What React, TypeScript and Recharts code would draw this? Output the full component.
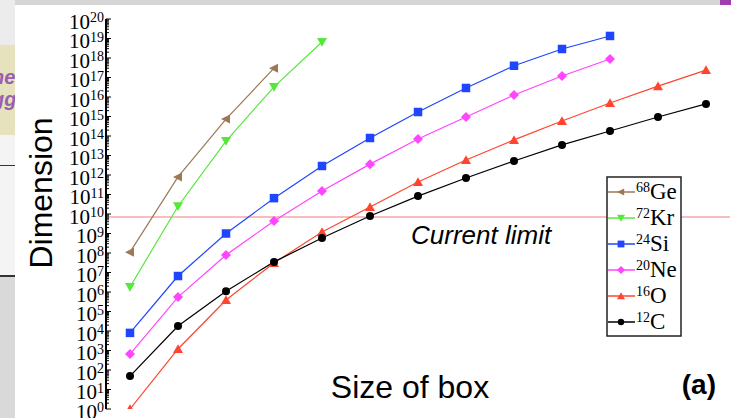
import { LineChart, Line, XAxis, YAxis, ReferenceLine } from "recharts"

// box sizes along the x axis (no tick labels in the figure)
const boxSizes = [1, 2, 3, 4, 5, 6, 7, 8, 9, 10, 11, 12, 13]

// dimensions
const ge68 = [1.1e8, 8e11, 7.4e14, 3e17]
const kr72 = [1.8e6, 2.5e10, 5.5e13, 3.3e16, 6.6e18]
const si24 = [8e3, 6.6e6, 1e9, 6.5e10, 2.9e12, 7.9e13, 1.7e15, 2.9e16, 4e17, 2.9e18, 1.35e19]
const ne20 = [660, 5.5e5, 7.9e7, 4.4e9, 1.5e11, 3.6e12, 7e13, 9.4e14, 1.26e16, 1.2e17, 8.9e17]
const o16 = [1, 1.2e3, 3.9e5, 3.1e7, 1.2e9, 2.3e10, 4.4e11, 5.9e12, 6.3e13, 5.9e14, 4.9e15, 3.6e16, 2.4e17]
const c12 = [49, 1.8e4, 1.1e6, 3.5e7, 5.9e8, 7.9e9, 8.3e10, 7e11, 5.2e12, 3.5e13, 1.8e14, 9.4e14, 4.4e15]

const currentLimit = 7e9

// tick values
const decades = Array.from({ length: 21 }, (_, k) => k)
const yTicks = decades.flatMap((k) =>
  k === 20 ? [1e20] : [1, 2, 3, 4, 5, 6, 7, 8, 9].map((m) => m * 10 ** k)
)
const xTicks = boxSizes.flatMap((b) => [b - 0.5, b]).concat([13.5])

const series = [
  { key: "ge", mass: "68", name: "Ge", color: "#9c7856", shape: "left", values: ge68 },
  { key: "kr", mass: "72", name: "Kr", color: "#55e83a", shape: "down", values: kr72 },
  { key: "si", mass: "24", name: "Si", color: "#1f45ff", shape: "square", values: si24 },
  { key: "ne", mass: "20", name: "Ne", color: "#ff45ff", shape: "diamond", values: ne20 },
  { key: "o", mass: "16", name: "O", color: "#ff4530", shape: "up", values: o16 },
  { key: "c", mass: "12", name: "C", color: "#000000", shape: "circle", values: c12 },
]

const rows = boxSizes.map((x, i) => {
  const r: any = { x }
  series.forEach((s) => {
    r[s.key] = s.values[i] ?? null
  })
  return r
})

const serif = "'Liberation Serif', 'Times New Roman', serif"
const sans = "'Liberation Sans', Arial, sans-serif"

function Marker({ shape, cx, cy, color, s }: any) {
  if (cx == null || cy == null) return null
  switch (shape) {
    case "left":
      return <polygon points={`${cx - s},${cy} ${cx + s * 0.8},${cy - s * 0.9} ${cx + s * 0.8},${cy + s * 0.9}`} fill={color} />
    case "down":
      return <polygon points={`${cx - s},${cy - s * 0.8} ${cx + s},${cy - s * 0.8} ${cx},${cy + s * 0.95}`} fill={color} />
    case "up":
      return <polygon points={`${cx - s},${cy + s * 0.8} ${cx + s},${cy + s * 0.8} ${cx},${cy - s * 0.95}`} fill={color} />
    case "square":
      return <rect x={cx - s * 0.85} y={cy - s * 0.85} width={s * 1.7} height={s * 1.7} fill={color} />
    case "diamond":
      return <polygon points={`${cx - s},${cy} ${cx},${cy - s} ${cx + s},${cy} ${cx},${cy + s}`} fill={color} />
    default:
      return <circle cx={cx} cy={cy} r={s * 0.8} fill={color} />
  }
}

const isDecade = (v: number) => Math.abs(Math.log10(v) - Math.round(Math.log10(v))) < 1e-6

const LeftTick = (props: any) => {
  const { x, y, payload } = props
  const v = payload.value
  const major = isDecade(v)
  return (
    <g>
      <line x1={x} x2={x + (major ? 5 : 3)} y1={y} y2={y} stroke="#000" strokeWidth={1} />
      {major && (
        <text x={x - 2} y={y + 9.5} textAnchor="end" fontFamily={serif} fontSize={21} fill="#000">
          10
          <tspan dy={-6.5} fontSize={14}>
            {Math.round(Math.log10(v))}
          </tspan>
        </text>
      )}
    </g>
  )
}

const RightTick = (props: any) => {
  const { x, y, payload } = props
  const major = isDecade(payload.value)
  return <line x1={x} x2={x - (major ? 6 : 3)} y1={y} y2={y} stroke="#000" strokeWidth={1} />
}

const BottomTick = (props: any) => {
  const { x, y } = props
  return <line x1={x} x2={x} y1={y} y2={y - 5} stroke="#000" strokeWidth={1} />
}

const TopTick = (props: any) => {
  const { x, y } = props
  return <line x1={x} x2={x} y1={y} y2={y + 5} stroke="#000" strokeWidth={1} />
}

export default function App() {
  return (
    <div style={{ position: "absolute", left: 0, top: 0, width: 731, height: 418, background: "#e4e4e4", overflow: "hidden" }}>
      {/* bits of the slide behind the screenshot */}
      <div style={{ position: "absolute", left: 0, top: 0, width: 731, height: 5, background: "#d6d6d6" }} />
      <div style={{ position: "absolute", left: 720, top: 0, width: 11, height: 16, background: "#a03cb0" }} />
      <div style={{ position: "absolute", left: 0, top: 0, width: 15, height: 45, background: "#ececec" }} />
      <div style={{ position: "absolute", left: 0, top: 45, width: 15, height: 90, background: "#e6e2bd" }} />
      <div style={{ position: "absolute", left: -8, top: 66, fontFamily: sans, fontStyle: "italic", fontWeight: "bold", fontSize: 20, color: "#9a5fb0", lineHeight: "22px" }}>
        he
        <br />
        gg
      </div>
      <div style={{ position: "absolute", left: 0, top: 135, width: 15, height: 140, background: "#f4f4f4" }} />
      <div style={{ position: "absolute", left: 0, top: 165, width: 15, height: 1, background: "#333" }} />
      <div style={{ position: "absolute", left: 0, top: 275, width: 15, height: 2, background: "#333" }} />
      <div style={{ position: "absolute", left: 0, top: 277, width: 15, height: 141, background: "#d9d9d9" }} />
      <div style={{ position: "absolute", left: 15, top: 5, width: 716, height: 413, background: "#ffffff" }} />

      <div style={{ position: "absolute", left: 0, top: 0 }}>
        <LineChart width={731} height={418} data={rows} margin={{ top: 19, right: 1, bottom: 9, left: 0 }}>
          <XAxis
            dataKey="x"
            type="number"
            domain={[0.5, 13.5]}
            ticks={xTicks}
            interval={0}
            height={0}
            tickSize={0}
            tickMargin={0}
            tickLine={false}
            tick={<BottomTick />}
            axisLine={{ stroke: "#000", strokeWidth: 1.5 }}
          />
          <XAxis
            xAxisId="top"
            orientation="top"
            dataKey="x"
            type="number"
            domain={[0.5, 13.5]}
            ticks={xTicks}
            interval={0}
            height={0}
            tickSize={0}
            tickMargin={0}
            tickLine={false}
            tick={<TopTick />}
            axisLine={{ stroke: "#000", strokeWidth: 1.5 }}
          />
          <YAxis
            type="number"
            scale="log"
            domain={[1, 1e20]}
            allowDataOverflow
            ticks={yTicks}
            interval={0}
            width={106}
            tickSize={0}
            tickMargin={0}
            tickLine={false}
            tick={<LeftTick />}
            axisLine={{ stroke: "#000", strokeWidth: 2 }}
          />
          <YAxis
            yAxisId="right"
            orientation="right"
            type="number"
            scale="log"
            domain={[1, 1e20]}
            allowDataOverflow
            ticks={yTicks}
            interval={0}
            width={0}
            tickSize={0}
            tickMargin={0}
            tickLine={false}
            tick={<RightTick />}
            axisLine={{ stroke: "#000", strokeWidth: 1.5 }}
          />
          <ReferenceLine y={currentLimit} stroke="#f6a8a8" strokeWidth={1.5} />
          {series.map((s) => (
            <Line
              key={s.key}
              dataKey={s.key}
              stroke={s.color}
              strokeWidth={1.2}
              isAnimationActive={false}
              activeDot={false}
              dot={(p: any) => (
                <g key={`${s.key}-${p.index}`}>
                  <Marker shape={s.shape} cx={p.cx} cy={p.cy} color={s.color} s={5} />
                </g>
              )}
            />
          ))}
        </LineChart>
      </div>

      <svg width={731} height={418} style={{ position: "absolute", left: 0, top: 0, pointerEvents: "none" }}>
        <text transform="translate(52,193) rotate(-90)" textAnchor="middle" fontFamily={sans} fontSize={32} fill="#000">
          Dimension
        </text>
        <text x={410} y={398} textAnchor="middle" fontFamily={sans} fontSize={32} fill="#000">
          Size of box
        </text>
        <text x={411} y={244} fontFamily={sans} fontStyle="italic" fontSize={26} fill="#000">
          Current limit
        </text>
        <text x={716} y={394} textAnchor="end" fontFamily={sans} fontWeight="bold" fontSize={28} fill="#000">
          (a)
        </text>

        <rect x={607} y={177} width={74} height={159} fill="#fff" stroke="#222" strokeWidth={1.5} />
        {series.map((s, i) => {
          const y = 192 + i * 26
          return (
            <g key={s.key}>
              <line x1={608} x2={635} y1={y} y2={y} stroke={s.color} strokeWidth={1.5} />
              <Marker shape={s.shape} cx={621} cy={y} color={s.color} s={4} />
              <text x={636} y={y + 7} fontFamily={serif} fontSize={23} fill="#000">
                <tspan dy={-7.5} fontSize={14}>
                  {s.mass}
                </tspan>
                <tspan dy={7.5}>{s.name}</tspan>
              </text>
            </g>
          )
        })}
      </svg>
    </div>
  )
}
